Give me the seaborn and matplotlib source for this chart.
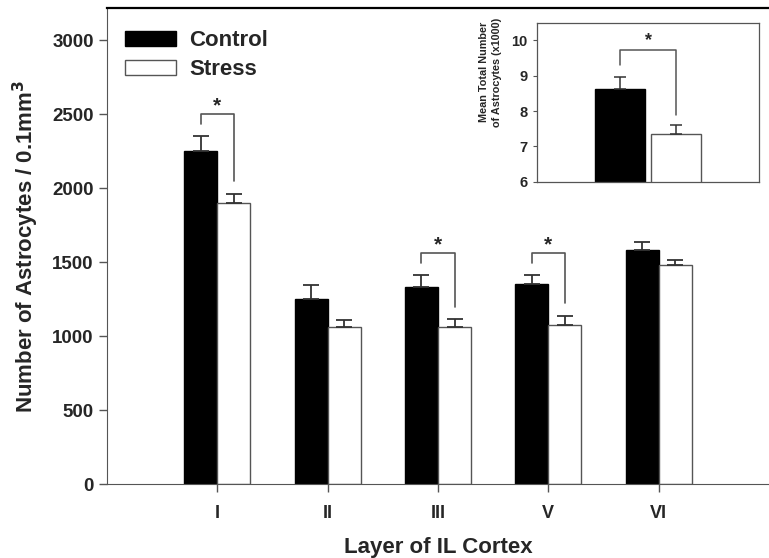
### Astrocyte counts per IL cortex layer, control vs stress ###

import numpy as np
import pandas as pd
import matplotlib
matplotlib.use("Agg")
import matplotlib.pyplot as plt
from matplotlib.patches import Patch
import seaborn as sns

# Data
layers = ["I", "II", "III", "V", "VI"]
control_mean = [2250, 1248, 1333, 1351, 1581]
control_sem = [100, 97, 79, 61, 54]
stress_mean = [1900, 1059, 1059, 1074, 1480]
stress_sem = [63, 47, 54, 61, 34]
significant = ["I", "III", "V"]

# Inset: mean total number of astrocytes (x1000)
groups = ["Control", "Stress"]
total_mean = [8.62, 7.34]
total_sem = [0.35, 0.26]

sns.set_style("ticks")
plt.rcParams["font.family"] = ["Liberation Sans", "DejaVu Sans"]
plt.rcParams["font.weight"] = "bold"

edge = "#555555"

df = pd.DataFrame({
    "Layer": layers * 2,
    "Count": control_mean + stress_mean,
    "Group": ["Control"] * len(layers) + ["Stress"] * len(layers),
})

fig = plt.figure(figsize=(7.69, 5.58), dpi=100)
ax = fig.add_axes([0.1391, 0.1326, 0.8609, 0.8525])

sns.barplot(data=df, x="Layer", y="Count", hue="Group", order=layers,
            palette=["black", "white"], width=0.6, errorbar=None,
            legend=False, saturation=1, ax=ax)

# bar edges + one-sided error bars
for cont, sem, col in zip(ax.containers, [control_sem, stress_sem], ["black", edge]):
    xs = [p.get_x() + p.get_width() / 2 for p in cont.patches]
    hs = [p.get_height() for p in cont.patches]
    for p in cont.patches:
        p.set_edgecolor(col)
        p.set_linewidth(1.0)
    ax.errorbar(xs, hs, yerr=[np.zeros(len(sem)), sem], fmt="none",
                ecolor="#333333", elinewidth=1.3, capsize=5.5, capthick=1.3, zorder=3)

# significance brackets
cx = [p.get_x() + p.get_width() / 2 for p in ax.containers[0].patches]
sx = [p.get_x() + p.get_width() / 2 for p in ax.containers[1].patches]
for i, lay in enumerate(layers):
    if lay not in significant:
        continue
    start = control_mean[i] + control_sem[i] + 80
    top = start + 70
    end = stress_mean[i] + stress_sem[i] + 85
    ax.plot([cx[i], cx[i], sx[i], sx[i]], [start, top, top, end], color=edge, lw=1.2)
    ax.text((cx[i] + sx[i]) / 2, top + 15, "*", ha="center", va="baseline",
            fontsize=15, fontweight="bold")

ax.set_xlim(-1, 5)
ax.set_ylim(0, 3215)
ax.set_yticks([0, 500, 1000, 1500, 2000, 2500, 3000])
ax.tick_params(axis="y", labelsize=13.5, color=edge, length=6, width=1, direction="out")
ax.tick_params(axis="x", labelsize=13, color=edge, length=6, width=1, direction="out", pad=9)
for lab in ax.get_xticklabels() + ax.get_yticklabels():
    lab.set_fontweight("bold")
ax.set_xlabel("Layer of IL Cortex", fontsize=16, fontweight="bold", labelpad=11)
ax.set_ylabel("Number of Astrocytes / 0.1mm$^\\mathbf{3}$", fontsize=16, fontweight="bold", labelpad=8)
ax.spines["right"].set_visible(False)
ax.spines["top"].set_color("black")
ax.spines["top"].set_linewidth(1.6)
ax.spines["left"].set_color(edge)
ax.spines["bottom"].set_color(edge)

handles = [Patch(facecolor="black", edgecolor="black", label="Control"),
           Patch(facecolor="white", edgecolor=edge, label="Stress")]
ax.legend(handles=handles, loc="upper left", bbox_to_anchor=(0.027, 0.954),
          frameon=False, handlelength=2.3, handleheight=0.65,
          labelspacing=0.35, handletextpad=0.6, borderaxespad=0, borderpad=0,
          prop={"weight": "bold", "size": 16})

# inset
ins = fig.add_axes([0.698, 0.6744, 0.2895, 0.285])
tot = pd.DataFrame({"Group": groups, "Total": total_mean})
sns.barplot(data=tot, x="Group", y="Total", hue="Group", palette=["black", "white"],
            width=0.9, errorbar=None, legend=False, saturation=1, ax=ins)
ipx = []
for cont, col in zip(ins.containers, ["black", edge]):
    for p in cont.patches:
        p.set_edgecolor(col)
        p.set_linewidth(1.0)
        ipx.append(p.get_x() + p.get_width() / 2)
ins.errorbar(ipx, total_mean, yerr=[np.zeros(2), total_sem], fmt="none",
             ecolor="#333333", elinewidth=1.1, capsize=4, capthick=1.1, zorder=3)
start = total_mean[0] + total_sem[0] + 0.33
top = start + 0.44
end = total_mean[1] + total_sem[1] + 0.29
ins.plot([ipx[0], ipx[0], ipx[1], ipx[1]], [start, top, top, end], color=edge, lw=1.1)
ins.text(sum(ipx) / 2, top + 0.12, "*", ha="center", va="baseline", fontsize=13, fontweight="bold")

ins.set_xlim(-1.5, 2.5)
ins.set_ylim(6, 10.5)
ins.set_yticks([6, 7, 8, 9, 10])
ins.set_xticks([])
ins.set_xlabel("")
ins.set_ylabel("Mean Total Number\nof Astrocytes (x1000)", fontsize=7.8,
               fontweight="bold", linespacing=1.45,
               family=["Liberation Sans Narrow", "Liberation Sans", "DejaVu Sans"])
ins.yaxis.set_label_coords(-0.155, 0.69)
ins.tick_params(axis="y", labelsize=10.5, length=3, color=edge, width=0.8)
for lab in ins.get_yticklabels():
    lab.set_fontweight("bold")
for s in ins.spines.values():
    s.set_color(edge)
    s.set_linewidth(0.9)
    s.set_visible(True)

plt.savefig("out.png", dpi=100)
